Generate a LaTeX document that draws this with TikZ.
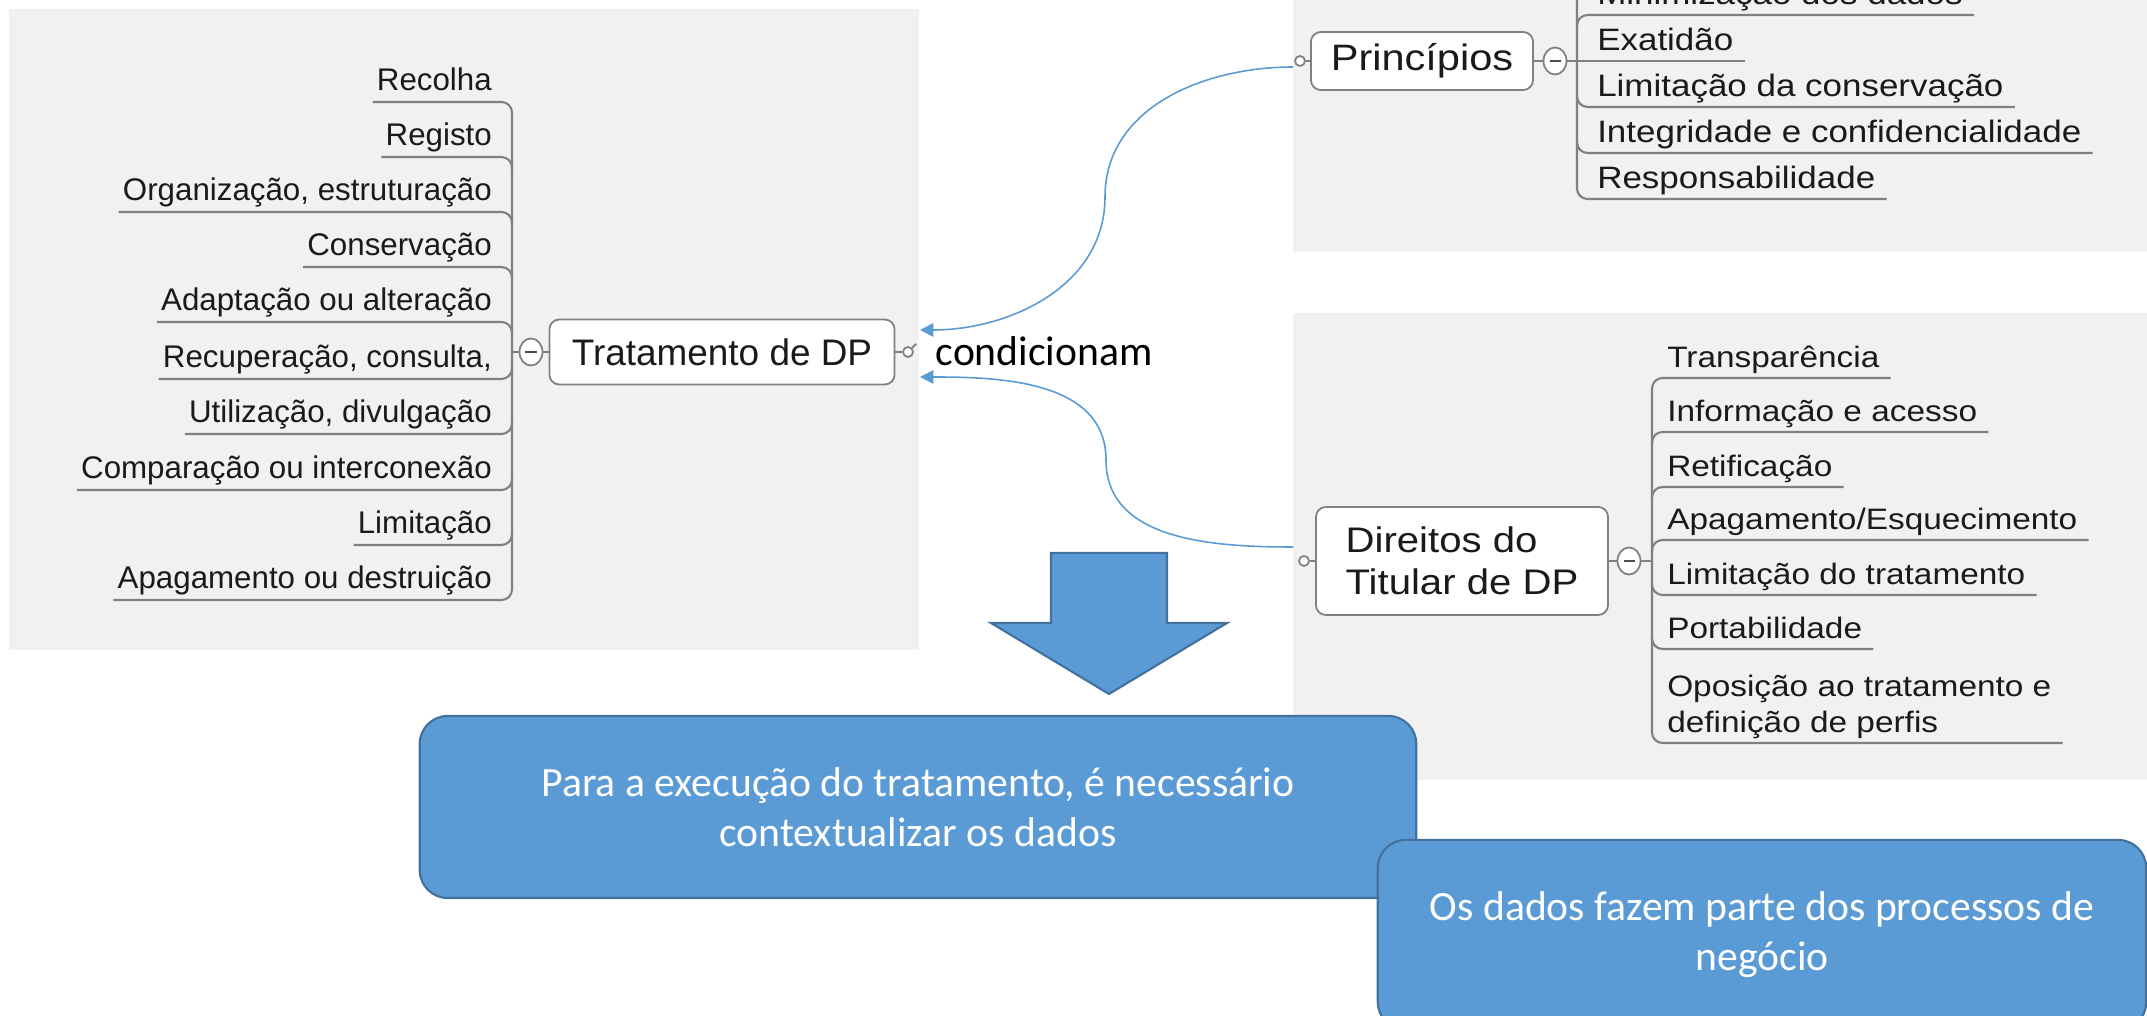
\documentclass[tikz,border=0pt]{standalone}
\usepackage{fontspec}
\usepackage{tikz}
\usetikzlibrary{shapes.geometric, arrows.meta, positioning}
\newfontfamily\mmfont{Liberation Sans}
\newfontfamily\mmwide[FakeStretch=1.13]{Liberation Sans}
\newfontfamily\boxfont{Carlito}
\definecolor{mmpanel}{HTML}{F1F1F1}
\definecolor{mmline}{HTML}{808080}
\definecolor{mmtext}{HTML}{1A1A1A}
\definecolor{ppblue}{HTML}{5B9BD5}
\definecolor{ppedge}{HTML}{41719C}

\begin{document}
\begin{tikzpicture}[x=0.01cm, y=0.01cm,
    topic/.style={rectangle, rounded corners=0.1cm, draw=mmline, fill=white, line width=0.5pt, text=mmtext},
    leaf/.style={inner xsep=1pt, inner ysep=0pt, text depth=3.1pt, text=mmtext, font=\mmfont\fontsize{8.9}{10.7}\selectfont},
    rleaf/.style={inner xsep=3pt, inner ysep=0pt, text depth=2.7pt, text=mmtext, font=\mmwide\fontsize{8.4}{10.4}\selectfont},
    pleaf/.style={rleaf, font=\mmwide\fontsize{8.8}{10.6}\selectfont},
    limb/.style={draw=mmline, line width=0.6pt, rounded corners=3pt},
    fold/.style={ellipse, draw=mmline, fill=white, line width=0.5pt, minimum width=0.23cm, minimum height=0.27cm, inner sep=0pt, text=black!70},
    handle/.style={circle, draw=mmline, fill=white, line width=0.5pt, minimum size=0.1cm, inner sep=0pt},
    rel/.style={draw=ppblue, line width=0.45pt, -{Triangle[length=3.8pt, width=3.8pt]}},
    bluebox/.style={rectangle, rounded corners=0.28cm, draw=ppedge, fill=ppblue, line width=0.6pt, text=white, align=center, font=\boxfont\fontsize{11.85}{14.2}\selectfont}
]
\useasboundingbox (0,0) rectangle (2147,-1016);
\fill[white] (0,0) rectangle (2147,-1016);

% map panels
\fill[mmpanel] (9,-9) rectangle (919,-650);
\fill[mmpanel] (1293,10) rectangle (2147,-252);
\fill[mmpanel] (1293,-313) rectangle (2147,-780);

% Tratamento de DP
\node[topic, minimum width=3.45cm, minimum height=0.65cm, font=\mmfont\fontsize{10.5}{12}\selectfont] (trat) at (722,-352) {Tratamento de DP};
\node[fold] (tfold) at (531,-352) {\rule{0.11cm}{0.6pt}};
\node[handle] (thdl) at (908,-352) {};
\coordinate (lsp) at (512,-352);
\draw[limb] (tfold.east) -- (trat.west);
\draw[limb] (tfold.west) -- (lsp);
\draw[limb] (trat.east) -- (thdl.west);
\draw[limb] (thdl.north east) -- ++(4,4);

\node[leaf, anchor=south east] (l1) at (496,-102) {Recolha};
\node[leaf, anchor=south east] (l2) at (496,-157) {Registo\ };
\node[leaf, anchor=south east] (l3) at (496,-212) {Organização, estruturação};
\node[leaf, anchor=south east] (l4) at (496,-267) {Conservação};
\node[leaf, anchor=south east] (l5) at (496,-322) {Adaptação ou alteração};
\node[leaf, anchor=south east] (l6) at (496,-379) {Recuperação, consulta,\ };
\node[leaf, anchor=south east] (l7) at (496,-434) {Utilização, divulgação};
\node[leaf, anchor=south east] (l8) at (496,-490) {Comparação ou interconexão};
\node[leaf, anchor=south east] (l9) at (496,-545) {Limitação};
\node[leaf, anchor=south east] (l10) at (496,-600) {Apagamento ou destruição};

\draw[limb] (l1.south west) -- (l1.south west -| lsp) -- (l10.south west -| lsp) -- (l10.south west);
\draw[limb] (l2.south west) -- (l2.south west -| lsp) -- ++(0,-12);
\draw[limb] (l3.south west) -- (l3.south west -| lsp) -- ++(0,-12);
\draw[limb] (l4.south west) -- (l4.south west -| lsp) -- ++(0,-12);
\draw[limb] (l5.south west) -- (l5.south west -| lsp) -- ++(0,-12);
\draw[limb] (l6.south west) -- (l6.south west -| lsp) -- ++(0,12);
\draw[limb] (l7.south west) -- (l7.south west -| lsp) -- ++(0,12);
\draw[limb] (l8.south west) -- (l8.south west -| lsp) -- ++(0,12);
\draw[limb] (l9.south west) -- (l9.south west -| lsp) -- ++(0,12);

% Principios
\node[topic, minimum width=2.22cm, minimum height=0.56cm, font=\mmwide\fontsize{10.45}{12}\selectfont] (prin) at (1422,-61) {Princípios};
\node[fold] (pfold) at (1555,-61) {\rule{0.11cm}{0.6pt}};
\node[handle] (phdl) at (1300,-61) {};
\coordinate (psp) at (1577,-61);
\coordinate (ptop) at (1577,40);
\draw[limb] (phdl.east) -- (prin.west);
\draw[limb] (prin.east) -- (pfold.west);
\draw[limb] (pfold.east) -- (psp);

\node[pleaf, anchor=south west] (p1) at (1586,-15) {Minimização dos dados};
\node[pleaf, anchor=south west] (p2) at (1586,-61) {Exatidão};
\node[pleaf, anchor=south west] (p3) at (1586,-107) {Limitação da conservação};
\node[pleaf, anchor=south west] (p4) at (1586,-153) {Integridade e confidencialidade};
\node[pleaf, anchor=south west] (p5) at (1586,-199) {Responsabilidade};

\draw[limb] (ptop) -- (p5.south west -| psp) -- (p5.south east);
\draw[limb] (p1.south east) -- (p1.south west -| psp) -- ++(0,-12);
\draw[limb] (p2.south east) -- (p2.south west -| psp);
\draw[limb] (p3.south east) -- (p3.south west -| psp) -- ++(0,12);
\draw[limb] (p4.south east) -- (p4.south west -| psp) -- ++(0,12);

% Direitos do Titular
\node[topic, minimum width=2.92cm, minimum height=1.08cm, align=left, font=\mmwide\fontsize{10.1}{11.9}\selectfont] (dir) at (1462,-561) {Direitos do\\Titular de DP};
\node[fold] (dfold) at (1629,-561) {\rule{0.11cm}{0.6pt}};
\node[handle] (dhdl) at (1304,-561) {};
\coordinate (dsp) at (1652,-561);
\draw[limb] (dhdl.east) -- (dir.west);
\draw[limb] (dir.east) -- (dfold.west);
\draw[limb] (dfold.east) -- (dsp);

\node[rleaf, anchor=south west] (d1) at (1656,-378) {Transparência\ };
\node[rleaf, anchor=south west] (d2) at (1656,-432) {Informação e acesso\ };
\node[rleaf, anchor=south west] (d3) at (1656,-487) {Retificação};
\node[rleaf, anchor=south west] (d4) at (1656,-540) {Apagamento/Esquecimento};
\node[rleaf, anchor=south west] (d5) at (1656,-595) {Limitação do tratamento};
\node[rleaf, anchor=south west] (d6) at (1656,-649) {Portabilidade\ };
\node[rleaf, anchor=south west] (d7) at (1656,-743) {\begin{tabular}[b]{@{}l@{}}Oposição ao tratamento e\\definição de perfis\end{tabular}};

\draw[limb] (d1.south east) -- (d1.south west -| dsp) -- (d7.south west -| dsp) -- (d7.south east);
\draw[limb] (d2.south east) -- (d2.south west -| dsp) -- ++(0,-12);
\draw[limb] (d3.south east) -- (d3.south west -| dsp) -- ++(0,-12);
\draw[limb] (d4.south east) -- (d4.south west -| dsp) -- ++(0,-12);
\draw[limb] (d5.south east) -- (d5.south west -| dsp) -- ++(0,12);
\draw[limb] (d6.south east) -- (d6.south west -| dsp) -- ++(0,12);

% relations
\coordinate (pst) at (1293,-67);
\coordinate (pmid) at (1105,-197);
\coordinate (tin1) at (920,-330);
\coordinate (dst) at (1293,-547);
\coordinate (dmid) at (1106,-460);
\coordinate (tin2) at (920,-377);
\draw[rel] (pst) to[out=180, in=90] (pmid) to[out=-90, in=0] (tin1);
\draw[rel] (dst) to[out=180, in=-90] (dmid) to[out=90, in=0] (tin2);
\node[anchor=base west, inner sep=0pt, font=\boxfont\fontsize{11.85}{14.2}\selectfont] (cond) at (935,-366) {condicionam};

% block arrow
\filldraw[fill=ppblue, draw=ppedge, line width=0.6pt] (1051,-553) -- (1167,-553) -- (1167,-623) -- (1227,-623) -- (1109,-694) -- (991,-623) -- (1051,-623) -- cycle;

% notes
\node[bluebox, minimum width=9.96cm, minimum height=1.82cm] (exec) at (918,-807) {Para a execução do tratamento, é necessário\\contextualizar os dados};
\node[bluebox, minimum width=7.68cm, minimum height=1.9cm] (proc) at (1762,-935) {Os dados fazem parte dos processos de\\negócio};

\end{tikzpicture}
\end{document}
